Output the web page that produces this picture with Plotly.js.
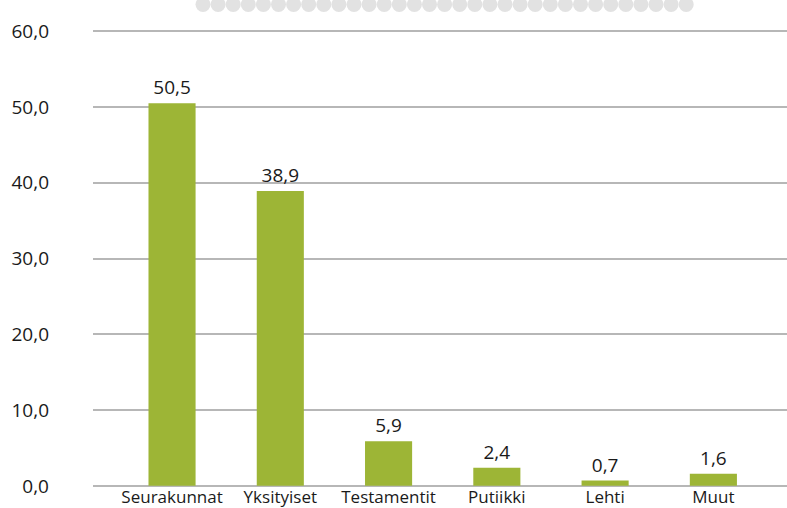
<!DOCTYPE html>
<html>
<head>
<meta charset="utf-8">
<script src="https://cdn.plot.ly/plotly-3.0.1.min.js"></script>
<style>html,body{margin:0;padding:0;background:#fff;}#chart{width:787px;height:508px;}</style>
</head>
<body>
<div id="chart"></div>
<script>
const categories = ["Seurakunnat", "Yksityiset", "Testamentit", "Putiikki", "Lehti", "Muut"];
const values = [50.5, 38.9, 5.9, 2.4, 0.7, 1.6];
const yTicks = [0, 10, 20, 30, 40, 50, 60];

const W = 787, H = 508;
const plotL = 93, plotR = 787, plotT = 30, plotB = 487;

// decorative dotted strip at the top (page artifact)
const shapes = [];
for (let i = 0; i < 33; i++) {
  const cx = 203 + i * 15.1;
  const x0 = (cx - 7.5 - plotL) / (plotR - plotL), x1 = (cx + 7.5 - plotL) / (plotR - plotL);
  const y0 = (plotB - 12) / (plotB - plotT), y1 = (plotB + 3) / (plotB - plotT);
  shapes.push({type: 'circle', xref: 'paper', yref: 'paper', x0: x0, x1: x1, y0: y0, y1: y1,
    fillcolor: '#e2e2e2', line: {width: 0}, layer: 'below'});
}

const trace = {
  type: 'bar',
  x: categories,
  y: values,
  marker: {color: '#9db536'},
  texttemplate: '%{y:.1f}',
  textposition: 'outside',
  cliponaxis: false,
  textfont: {family: 'Open Sans, sans-serif', size: 19, color: '#1a1a1a'},
  hoverinfo: 'none'
};

const layout = {
  width: W, height: H,
  margin: {l: plotL, r: W - plotR, t: plotT, b: H - plotB, pad: 0},
  paper_bgcolor: '#ffffff', plot_bgcolor: '#ffffff',
  separators: ',.',
  bargap: 0.565,
  showlegend: false,
  shapes: shapes,
  font: {family: 'Open Sans, sans-serif', size: 17, color: '#1a1a1a'},
  xaxis: {
    type: 'category',
    range: [-0.73, 5.68],
    showgrid: false, zeroline: false, showline: false,
    ticks: '', ticklabelstandoff: -2,
    tickfont: {size: 17, color: '#1a1a1a'},
    fixedrange: true
  },
  yaxis: {
    range: [-0.15, 60.15],
    tickvals: yTicks,
    tickformat: '.1f',
    showgrid: true, gridcolor: '#b7b7b7', gridwidth: 2,
    zeroline: false, showline: false,
    ticks: '', ticklabelstandoff: 43,
    tickfont: {size: 19, color: '#1a1a1a'},
    fixedrange: true
  }
};

Plotly.newPlot('chart', [trace], layout, {displayModeBar: false, staticPlot: true});
</script>
</body>
</html>
